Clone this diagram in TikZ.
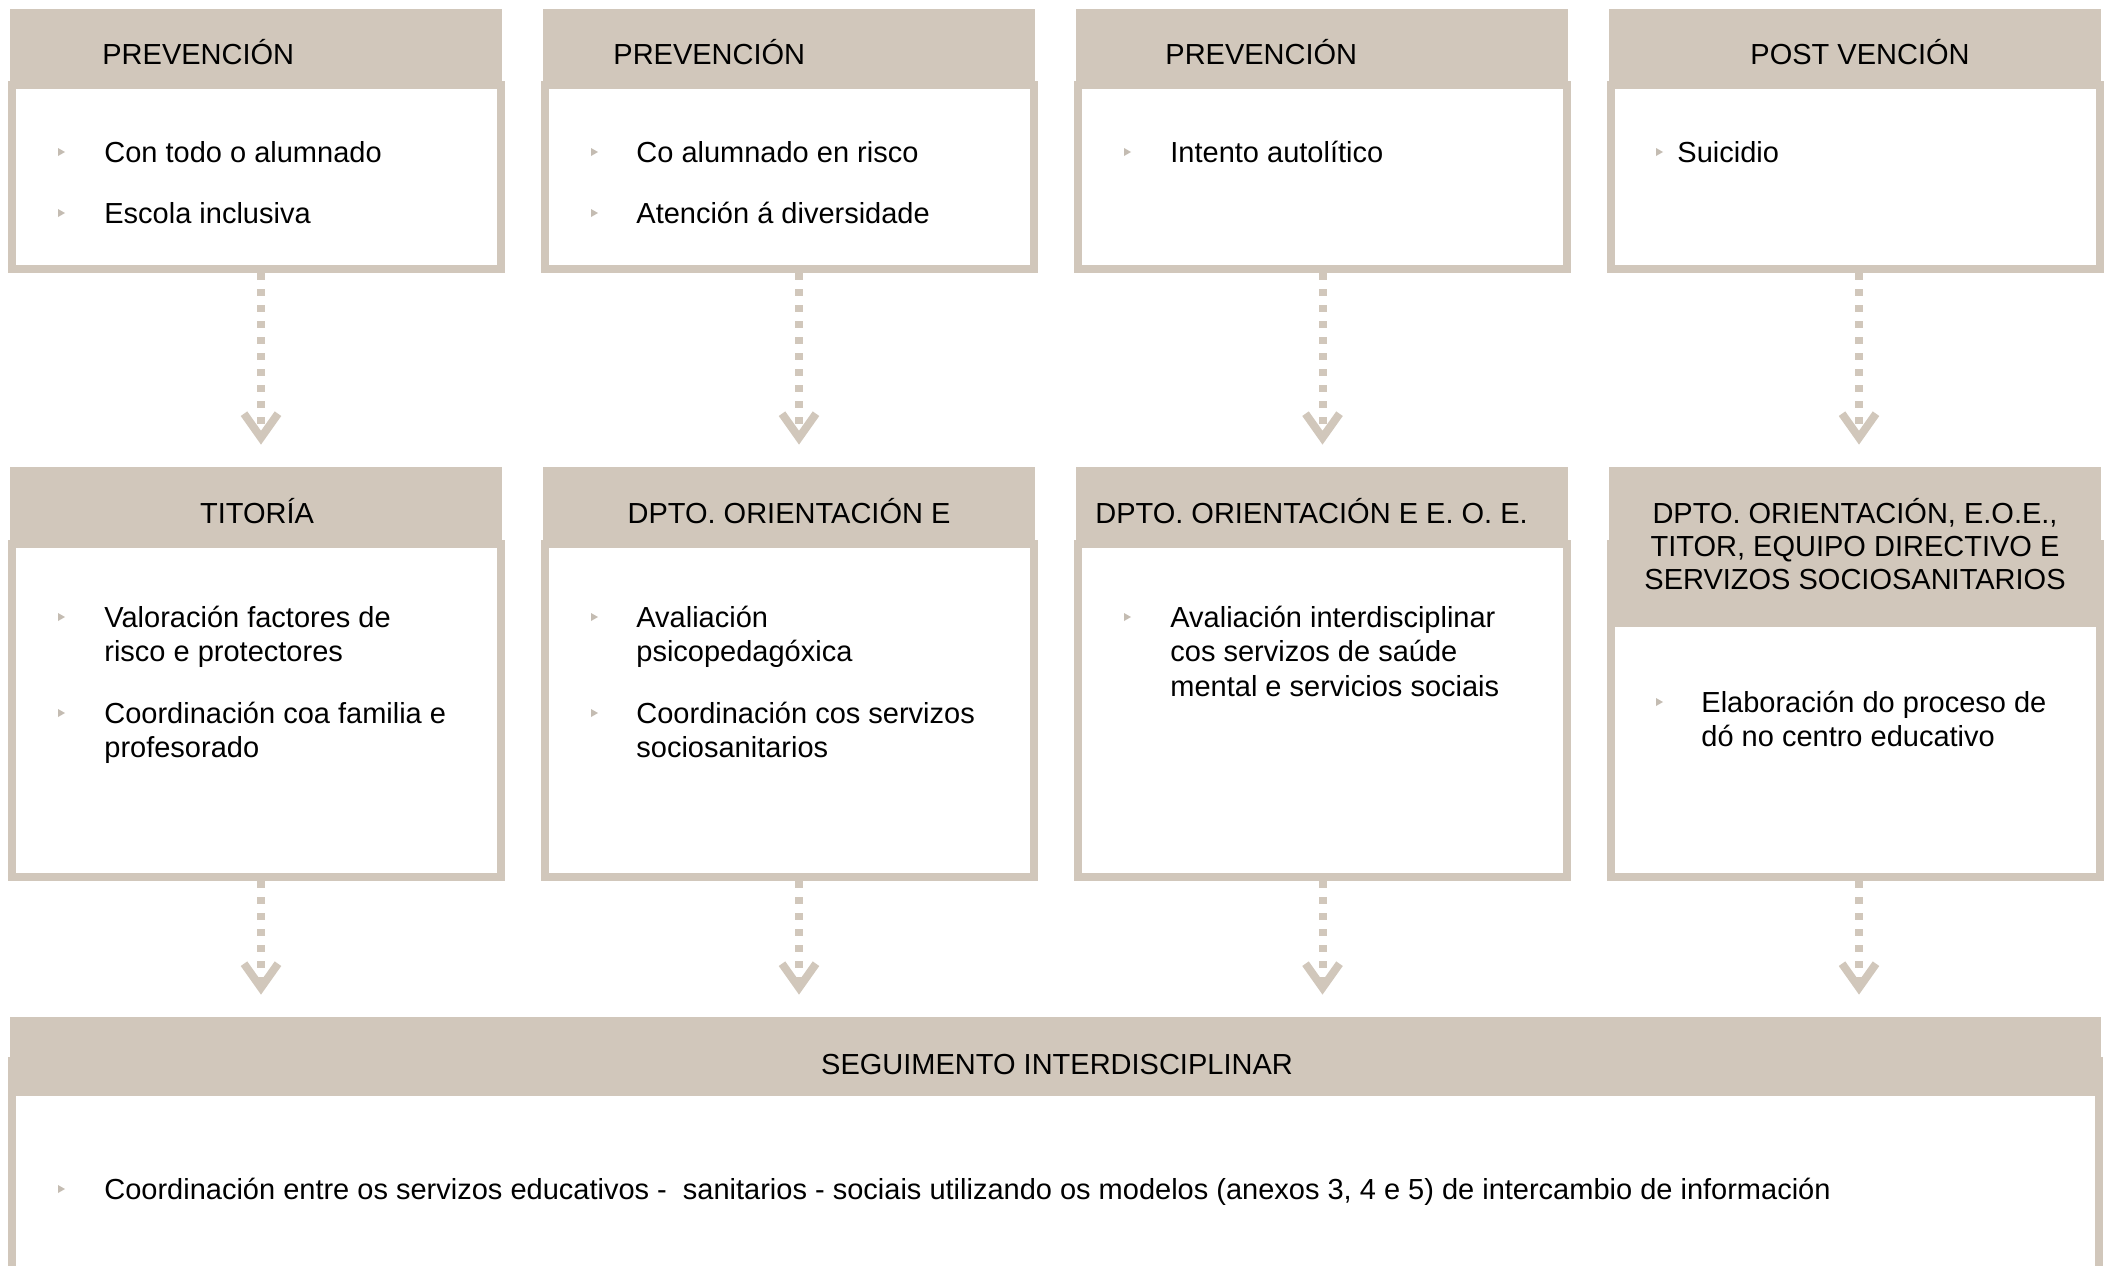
\documentclass[tikz,border=0pt]{standalone}
\usepackage{fontspec}
\setmainfont{Liberation Sans}
\usetikzlibrary{arrows.meta}

\definecolor{taupe}{RGB}{209,199,187}
\definecolor{bulgray}{RGB}{196,188,178}

\tikzset{
	frame/.style={draw=taupe, line width=4pt, fill=white, inner sep=0pt, minimum width=244.5pt},
	head/.style={fill=taupe, inner sep=0pt, minimum width=246pt, minimum height=39.5pt},
	txt/.style={inner sep=0pt, anchor=base west, align=left, font=\fontsize{14.5}{17.25}\selectfont},
	htxt/.style={inner sep=0pt, anchor=base, align=center, font=\fontsize{14.5}{16.5}\selectfont},
	conn/.style={draw=taupe, line width=4pt, dash pattern=on 3.5pt off 4.5pt, shorten >=11pt,
		-{Straight Barb[length=12pt,width=17pt]}},
}
\newcommand\bul[2]{\fill[bulgray] (#1-3,#2-4) -- (#1+4,#2) -- (#1-3,#2+4) -- cycle;}

\begin{document}
\begin{tikzpicture}[x=0.5pt,y=-0.5pt]
	\useasboundingbox (0,0) rectangle (2109,1265);
	\clip (0,0) rectangle (2109,1265);

	% boxes
	\foreach \i in {0,1,2,3}{
		\node[frame, minimum height=92pt] (fa\i) at (256.5+533*\i,177) {};
		\node[head] (ha\i) at (256+533*\i,48.5) {};
		\node[frame, minimum height=166.5pt] (fb\i) at (256.5+533*\i,710.5) {};
	}
	\foreach \i in {0,1,2}
		\node[head] (hb\i) at (256+533*\i,506.5) {};
	\node[head, minimum height=80pt] (hb3) at (1855,547) {};
	\node[frame, minimum width=1043.5pt, minimum height=169.5pt] (fc) at (1055.5,1230.5) {};
	\node[head, minimum width=1045.5pt] (hc) at (1055.5,1056.5) {};

	% arrows
	\foreach \i/\d in {0/2.25pt,1/4.75pt,2/0pt,3/1.75pt}{
		\draw[conn] ([xshift=\d]fa\i.south) -- ([xshift=\d]fa\i.south |- hb\i.north);
		\draw[conn] ([xshift=\d]fb\i.south) -- ([xshift=\d]fb\i.south |- hc.north);
	}

	% headings (multi-line: base = last line)
	\node[htxt, anchor=base west] (ta0) at (102,64) {PREVENCIÓN};
	\node[htxt, anchor=base west] (ta1) at (613,64) {PREVENCIÓN};
	\node[htxt, anchor=base west] (ta2) at (1165,64) {PREVENCIÓN};
	\node[htxt] (ta3) at (1860,64) {POST VENCIÓN};
	\node[htxt] (tb0) at (257,523) {TITORÍA};
	\node[htxt] (tb1) at (789,523) {DPTO. ORIENTACIÓN E};
	\node[htxt] (tb2) at (1311.5,523) {DPTO. ORIENTACIÓN E E. O. E.};
	\node[htxt] (tb3) at (1855,589) {DPTO. ORIENTACIÓN, E.O.E.,\\TITOR, EQUIPO DIRECTIVO E\\SERVIZOS SOCIOSANITARIOS};
	\node[htxt] (tc) at (1057,1074) {SEGUIMENTO INTERDISCIPLINAR};

	% items
	\node[txt] (ia0) at (104,162) {Con todo o alumnado};
	\node[txt] (ia1) at (104,223) {Escola inclusiva};
	\node[txt] (ia2) at (636,162) {Co alumnado en risco};
	\node[txt] (ia3) at (636,223) {Atención á diversidade};
	\node[txt] (ia4) at (1170,162) {Intento autolítico};
	\node[txt] (ia5) at (1677,162) {Suicidio};
	\bul{61}{152} \bul{61}{213}
	\bul{594}{152} \bul{594}{213}
	\bul{1127}{152}
	\bul{1659}{152}

	\node[txt] (ib0) at (104,661.5) {Valoración factores de\\risco e protectores};
	\node[txt] (ib1) at (104,757.5) {Coordinación coa familia e\\profesorado};
	\node[txt] (ib2) at (636,661.5) {Avaliación\\psicopedagóxica};
	\node[txt] (ib3) at (636,757.5) {Coordinación cos servizos\\sociosanitarios};
	\node[txt] (ib4) at (1170,696) {Avaliación interdisciplinar\\cos servizos de saúde\\mental e servicios sociais};
	\node[txt] (ib5) at (1701,746.5) {Elaboración do proceso de\\dó no centro educativo};
	\bul{61}{617} \bul{61}{713}
	\bul{594}{617} \bul{594}{713}
	\bul{1127}{617}
	\bul{1659}{702}

	\node[txt] (ic0) at (104,1199) {Coordinación entre os servizos educativos -~ sanitarios - sociais utilizando os modelos (anexos 3, 4 e 5) de intercambio de información};
	\bul{61}{1189}
\end{tikzpicture}
\end{document}
